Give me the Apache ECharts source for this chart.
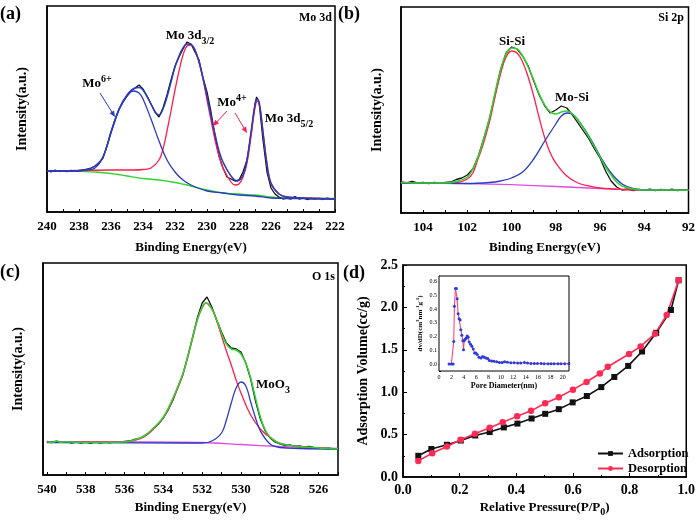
<!DOCTYPE html>
<html><head><meta charset="utf-8">
<script src="https://cdn.jsdelivr.net/npm/echarts@6/dist/echarts.min.js"></script>
<style>html,body{margin:0;padding:0;background:#fff}#c{width:698px;height:521px}</style>
</head><body><div id="c"></div>
<script>
// ---------- Panel (a) Mo 3d ----------
const aRawE = [240,239.75,239.5,239.25,239,238.75,238.5,238.25,238,237.75,237.5,237.25,237,236.75,236.5,236.25,236,235.75,235.5,235.25,235,234.75,234.5,234.25,234,233.75,233.5,233.25,233,232.75,232.5,232.25,232,231.75,231.5,231.25,231,230.75,230.5,230.25,230,229.75,229.5,229.25,229,228.75,228.5,228.25,228,227.75,227.5,227.25,227,226.9,226.75,226.5,226.25,226,225.75,225.5,225.25,225,224.75,224.5,224.25,224,223.75,223.5,223.25,223,222.75,222.5,222.25,222];
const aRawV = [41.5,40,41.8,40.5,41.2,40.3,41.6,40.8,41.5,42.2,42.8,44,46,49,54,66,80,92,103,110,116,121,124,127,123,116,108,100,95,104,117,132,146,155,163,170,168,160,152,134,120,100,76,56,44,35,33,31,32,40,52,78,108,115,110,72,40,24,18,15,13,14,13,15.5,13,14,12.5,13.5,12.8,13.6,12.5,13.8,13,13.3];
const aFitE = [240,238,237.5,237,236.5,236,235.5,235,234.5,234.25,234,233.5,233.2,233,232.75,232.5,232.25,232,231.75,231.5,231.25,231,230.75,230.5,230.25,230,229.75,229.5,229.25,229,228.5,228.1,227.75,227.5,227.25,227,226.85,226.7,226.5,226.25,226,225.5,225,224,222];
const aFitV = [41,41.3,42.5,46,55,80,103,117,124,124.5,122,108,99,97,103,115,130,145,156,164,168,167.5,162,150,134,116,96,78,61,50,36,31,37,52,80,107,113,106,80,48,29,18,15,14,13];
const aRedE = [240,238,236,234.5,234,233.5,233,232.75,232.5,232.25,232,231.75,231.5,231.25,231,230.75,230.5,230.25,230,229.75,229.5,229.25,229,228.5,228.25,228,227.75,227.5,227.25,227,226.85,226.7,226.5,226.25,226,225.5,225,224,222];
const aRedV = [41,41.5,42,42,42.5,44,52,63,81,101,122,141,157,166,167,162,150,133,112,92,72,56,44,30,27,28,35,49,75,104,111,105,80,48,28,18,15,14,13];
const aBlueE = [240,238,237.5,237,236.5,236,235.5,235,234.6,234.25,234,233.5,233,232.5,232,231.5,231,230,229,228,227,226,225,222];
const aBlueV = [41,41,42,44,55,79,102,116,121,119,113,93,71,52,40,32,27,21,19,17,16,14,13.5,13];
const aBgE = [240,238,237,236,235,234,233,232,231,230,229,228,227,226,225,222];
const aBgV = [40.7,40.7,40,38.5,36,33.5,32,29.5,26,22,19,18,17,15,14,13.7];

// ---------- Panel (b) Si 2p ----------
const bRawE = [105,104.75,104.5,104.25,104,103.75,103.5,103.25,103,102.75,102.5,102.25,102,101.75,101.5,101.25,101,100.75,100.5,100.25,100,99.75,99.5,99.25,99,98.75,98.5,98.25,98,97.75,97.5,97.25,97,96.75,96.5,96.25,96,95.75,95.5,95.25,95,94.75,94.5,94.25,94,93.75,93.5,93.25,93,92.75,92.5,92.25,92];
const bRawV = [31,30,31.5,30,30.5,29.5,30.5,29.8,30.5,31,33.5,35,38,44,57,75,94,118,143,160,166,164,157,147,132,118,107,100,103,107,105,98,90,82,74,64,55,42,32,26,23,24,22.5,23.5,22.8,23.8,22.5,23.6,22.6,23.8,22.4,23.2,22.8];
const bFitE = [105,104,103,102.5,102,101.75,101.5,101.25,101,100.75,100.5,100.25,100,99.75,99.5,99.25,99,98.75,98.5,98.25,98,97.75,97.5,97.25,97,96.75,96.5,96.25,96,95.75,95.5,95.25,95,94.5,94,93,92];
const bFitV = [30.5,30,30,31.5,36,44,57,75,95,120,143,159,165,164,157,146,133,119,108,101,99,101,102,99,93,85,76,66,56,46,38,31,27,24,23,23,22.8];
const bRedE = [105,103,102,101.5,101,100.75,100.5,100.25,100,99.75,99.5,99.25,99,98.75,98.5,98.25,98,97.5,97,96.5,96,95,94,92];
const bRedV = [30.5,30,34,55,91,116,139,156,162,160,151,136,117,95,75,60,50,37,30,27,25,23.5,23,22.8];
const bBlueE = [105,102,101,100.5,100,99.5,99,98.5,98,97.75,97.5,97.25,97,96.5,96,95.5,95,94.5,94,92];
const bBlueV = [30,29.5,30.5,32,35,41,54,72,89,97,100,99,93,77,57,40,29,24.5,23,22.8];
const bBaseE = [105,102,100,98,97,96,95,94,92];
const bBaseV = [30,29.3,28.3,26.5,25.5,24.5,23.6,23,22.7];

// ---------- Panel (c) O 1s ----------
const cRawE = [540,539.75,539.5,539.25,539,538.75,538.5,538.25,538,537.75,537.5,537.25,537,536.75,536.5,536.25,536,535.75,535.5,535.25,535,534.75,534.5,534.25,534,533.75,533.5,533.25,533,532.75,532.5,532.25,532,531.75,531.5,531.25,531,530.75,530.5,530.25,530,529.75,529.5,529.25,529,528.75,528.5,528.25,528,527.75,527.5,527.25,527,526.75,526.5,526.25,526,525.75,525.5,525.25,525];
const cRawV = [33.5,32.5,33.8,32.6,33.4,32,33,31.8,32.8,31.6,33,32,32.8,32.2,33.4,32.8,33.5,34,35.5,36.5,39,42,47,51,57,65,75,88,100,118,137,157,172,178,168,155,143,132,127,126,123,112,96,74,56,44,37,33,31,29.5,30,28.8,29.2,28,28.6,27.5,27.2,26.5,27,26,26.5];
const cFitE = [540,539.75,539.5,539.25,539,538,536,535.5,535,534.5,534,533.5,533,532.75,532.5,532.25,532,531.8,531.5,531.25,531,530.75,530.5,530.25,530,529.75,529.5,529.25,529,528.75,528.5,528,527,526,525.75,525.5,525.25,525];
const cFitV = [33.5,32.6,33.9,32.7,33.2,32.5,33,35,39,47,58,77,101,118,137,155,168,172,166,155,142,131,126,125,121,112,97,77,58,45,38,31.5,28.5,27.2,26.3,27.1,26,26.6];
const cRedE = [540,536,535.5,535,534.5,534,533.5,533,532.5,532.25,532,531.8,531.5,531.25,531,530.75,530.5,530.25,530,529.5,529,528.5,528,527,526,525];
const cRedV = [33,33,34.5,38,46,57,76,100,136,155,167,172,166,154,139,124,110,95,82,60,46,37.5,32,28.5,27,26];
const cBlueE = [540,533,532,531.5,531,530.75,530.5,530.25,530,529.75,529.5,529.25,529,528.5,528,527,525];
const cBlueV = [32.5,32,32,34,42,55,72,87,93,89,73,57,44,31,27.5,26.5,26];
const cBaseE = [540,535,532,530,528,526,525];
const cBaseV = [33,33,32.5,30.5,28.5,27,26.7];

// ---------- Panel (d) isotherm ----------
const adsP = [0.054,0.100,0.155,0.204,0.255,0.306,0.356,0.404,0.454,0.502,0.550,0.599,0.649,0.700,0.746,0.795,0.844,0.894,0.946,0.973];
const adsV = [0.25,0.33,0.38,0.43,0.49,0.53,0.585,0.63,0.69,0.745,0.80,0.88,0.955,1.06,1.18,1.31,1.48,1.70,1.97,2.32];
const desP = [0.054,0.103,0.155,0.204,0.254,0.306,0.352,0.403,0.452,0.502,0.550,0.600,0.648,0.695,0.723,0.798,0.839,0.890,0.931,0.973];
const desV = [0.19,0.28,0.36,0.44,0.51,0.58,0.645,0.715,0.78,0.87,0.94,1.03,1.12,1.22,1.30,1.45,1.54,1.69,1.91,2.32];

// ---------- Inset pore size distribution ----------
const poreD = [1.63,2.0,2.28,2.38,2.49,2.66,2.82,2.93,3.09,3.25,3.41,3.52,3.69,3.85,3.96,4.07,4.23,4.39,4.55,4.72,4.88,5.09,5.31,5.53,5.75,5.96,6.18,6.45,6.78,7.05,7.32,7.59,7.86,8.13,8.51,8.89,9.32,9.76,10.2,10.6,11.06,11.6,12.14,12.7,13.2,13.8,14.3,14.85,15.4,15.9,16.5,17.0,17.6,18.1,18.6,19.2,19.7,20.3,20.97];
const poreV = [0,0,0,0.165,0.42,0.55,0.55,0.475,0.365,0.33,0.32,0.25,0.21,0.17,0.105,0.17,0.18,0.19,0.205,0.195,0.16,0.145,0.13,0.11,0.08,0.08,0.07,0.05,0.045,0.055,0.05,0.045,0.04,0.027,0.022,0.02,0.018,0.012,0.012,0.018,0.013,0.01,0.01,0.008,0.008,0.012,0.008,0.005,0.005,0.005,0.005,0.003,0.003,0.003,0.003,0.003,0.003,0.003,0.003];

const F = "'Liberation Serif','Times New Roman',serif";
const BLACK = '#111111', RED = '#ff1f4b', BLUE = '#2b3bbf', GREEN = '#2fd22f', MAG = '#e04ce0';
const zip = (xs, ys) => xs.map((x, i) => [x, ys[i]]);

const chart = echarts.init(document.getElementById('c'), null, {renderer: 'canvas'});

function xpsX(idx, min, max, name, gap) {
  return {
    gridIndex: idx, type: 'value', min: min, max: max, inverse: true, interval: 1,
    name: name, nameLocation: 'middle', nameGap: gap,
    nameTextStyle: {fontFamily: F, fontWeight: 'bold', fontSize: 13, color: '#000'},
    axisLine: {lineStyle: {color: '#000', width: 1.5}},
    axisTick: {inside: true, length: 3, lineStyle: {color: '#000', width: 1}},
    axisLabel: {margin: 8, fontFamily: F, fontWeight: 'bold', fontSize: 13, color: '#000',
      formatter: v => (Math.abs(v - Math.round(v)) < 1e-6 && Math.round(v) % 2 === 0) ? String(Math.round(v)) : ''},
    splitLine: {show: false}
  };
}
function xpsY(idx, max, gap) {
  return {
    gridIndex: idx, type: 'value', min: 0, max: max,
    name: 'Intensity(a.u.)', nameLocation: 'middle', nameGap: gap,
    nameTextStyle: {fontFamily: F, fontWeight: 'bold', fontSize: 14, color: '#000'},
    axisLine: {lineStyle: {color: '#000', width: 1.5}},
    axisTick: {show: false}, axisLabel: {show: false}, splitLine: {show: false}
  };
}
function ln(idx, data, color, w, smooth) {
  return {type: 'line', xAxisIndex: idx, yAxisIndex: idx, data: data, showSymbol: false, symbol: 'none',
    smooth: smooth, lineStyle: {color: color, width: w}, itemStyle: {color: color}, silent: true, animation: false};
}

const richTxt = {
  m: {fontFamily: F, fontWeight: 'bold', fontSize: 13, lineHeight: 20, verticalAlign: 'middle', fill: '#000'},
  sub: {fontFamily: F, fontWeight: 'bold', fontSize: 10, verticalAlign: 'bottom', fill: '#000'},
  sup: {fontFamily: F, fontWeight: 'bold', fontSize: 10, verticalAlign: 'top', fill: '#000'}
};
function txt(x, y, text, size, align) {
  return {type: 'text', x: x, y: y, z: 100, silent: true,
    style: {text: text, fontFamily: F, fontWeight: 'bold', fontSize: size || 13, fill: '#000',
      align: align || 'center', verticalAlign: 'middle', rich: richTxt}};
}
function arrow(x1, y1, x2, y2, color) {
  const a = Math.atan2(y2 - y1, x2 - x1), L = 6, W = 2.6;
  const c = Math.cos(a), s = Math.sin(a);
  return [
    {type: 'line', z: 100, silent: true, shape: {x1: x1, y1: y1, x2: x2 - L * c * 0.7, y2: y2 - L * s * 0.7},
      style: {stroke: color, lineWidth: 1}},
    {type: 'polygon', z: 100, silent: true,
      shape: {points: [[x2, y2], [x2 - L * c + W * s, y2 - L * s - W * c], [x2 - L * c - W * s, y2 - L * s + W * c]]},
      style: {fill: color}}
  ];
}

const gridBase = {show: true, borderColor: '#000', borderWidth: 1.5, backgroundColor: '#fff', containLabel: false};

const option = {
  animation: false,
  backgroundColor: '#fff',
  grid: [
    Object.assign({left: 47, top: 6, width: 288, height: 206}, gridBase),
    Object.assign({left: 401, top: 7, width: 288, height: 206}, gridBase),
    Object.assign({left: 43, top: 263, width: 295, height: 212}, gridBase),
    Object.assign({left: 403, top: 265, width: 289, height: 212}, gridBase),
    Object.assign({left: 439, top: 276, width: 130, height: 95}, gridBase, {borderWidth: 1, z: 5})
  ],
  xAxis: [
    xpsX(0, 222, 240, 'Binding Energy(eV)', 29),
    xpsX(1, 92, 105, 'Binding Energy(eV)', 28),
    xpsX(2, 525, 540.2, 'Binding Energy(eV)', 26),
    {gridIndex: 3, type: 'value', min: 0, max: 1, interval: 0.2,
      name: '{a|Relative Pressure(P/P}{s|0}{a|)}', nameLocation: 'middle', nameGap: 22,
      nameTextStyle: {rich: {
        a: {fontFamily: F, fontWeight: 'bold', fontSize: 13, color: '#000', lineHeight: 18, verticalAlign: 'middle'},
        s: {fontFamily: F, fontWeight: 'bold', fontSize: 10, color: '#000', verticalAlign: 'bottom'}}},
      axisLine: {lineStyle: {color: '#000', width: 1.5}},
      axisTick: {inside: true, length: 4, lineStyle: {color: '#000'}},
      minorTick: {show: true, splitNumber: 2, length: 2, lineStyle: {color: '#000'}},
      axisLabel: {margin: 6, fontFamily: F, fontWeight: 'bold', fontSize: 14, color: '#000', formatter: v => v.toFixed(1)},
      splitLine: {show: false}},
    {gridIndex: 4, type: 'value', min: 0, max: 21, interval: 2,
      name: 'Pore Diameter(nm)', nameLocation: 'middle', nameGap: 11,
      nameTextStyle: {fontFamily: F, fontWeight: 'bold', fontSize: 8, color: '#000'},
      axisLine: {lineStyle: {color: '#000', width: 1}},
      axisTick: {inside: true, length: 2, lineStyle: {color: '#000'}},
      axisLabel: {margin: 3, fontFamily: F, fontSize: 6, color: '#000',
        formatter: v => (Math.abs(v - Math.round(v)) < 1e-6 && Math.round(v) % 2 === 0) ? String(Math.round(v)) : ''},
      splitLine: {show: false}}
  ],
  yAxis: [
    xpsY(0, 206, 18),
    xpsY(1, 206, 17),
    xpsY(2, 212, 18),
    {gridIndex: 3, type: 'value', min: 0, max: 2.5, interval: 0.5,
      name: 'Adsorption Volume(cc/g)', nameLocation: 'middle', nameGap: 33,
      nameTextStyle: {fontFamily: F, fontWeight: 'bold', fontSize: 14, color: '#000'},
      axisLine: {lineStyle: {color: '#000', width: 1.5}},
      axisTick: {inside: true, length: 4, lineStyle: {color: '#000'}},
      minorTick: {show: true, splitNumber: 2, length: 2, lineStyle: {color: '#000'}},
      axisLabel: {margin: 5, fontFamily: F, fontWeight: 'bold', fontSize: 14, color: '#000', formatter: v => v.toFixed(1)},
      splitLine: {show: false}},
    {gridIndex: 4, type: 'value', min: -0.05, max: 0.64, interval: 0.05,
      name: '{a|dv/dD(cm}{p|3}{a|nm}{p|-1}{a|g}{p|-1}{a|)}', nameLocation: 'middle', nameGap: 13,
      nameTextStyle: {rich: {
        a: {fontFamily: F, fontWeight: 'bold', fontSize: 7, color: '#000', lineHeight: 11, verticalAlign: 'middle'},
        p: {fontFamily: F, fontWeight: 'bold', fontSize: 5, color: '#000', verticalAlign: 'top'}}},
      axisLine: {lineStyle: {color: '#000', width: 1}},
      axisTick: {inside: true, length: 2, lineStyle: {color: '#000'}},
      axisLabel: {margin: 2, fontFamily: F, fontSize: 6, color: '#000',
        formatter: v => {const t = v * 10; return (v > -0.001 && Math.abs(t - Math.round(t)) < 1e-4) ? v.toFixed(1) : '';}},
      splitLine: {show: false}}
  ],
  legend: {
    left: 597, top: 447, padding: 0, orient: 'vertical', itemGap: 2, itemWidth: 25, itemHeight: 6,
    data: ['Adsorption', 'Desorption'],
    textStyle: {fontFamily: F, fontWeight: 'bold', fontSize: 12.5, color: '#000'}
  },
  series: [
    ln(0, zip(aBgE, aBgV), GREEN, 1.3, 0.3),
    ln(0, zip(aRawE, aRawV), BLACK, 1.3, false),
    ln(0, zip(aRedE, aRedV), RED, 1.3, 0.4),
    ln(0, zip(aBlueE, aBlueV), BLUE, 1.3, 0.4),
    ln(0, zip(aFitE, aFitV), BLUE, 1.5, 0.4),

    ln(1, zip(bRawE, bRawV), BLACK, 1.3, false),
    ln(1, zip(bBaseE, bBaseV), MAG, 1.3, 0.3),
    ln(1, zip(bRedE, bRedV), RED, 1.3, 0.4),
    ln(1, zip(bBlueE, bBlueV), BLUE, 1.3, 0.4),
    ln(1, zip(bFitE, bFitV), GREEN, 1.5, 0.4),

    ln(2, zip(cRawE, cRawV), BLACK, 1.3, false),
    ln(2, zip(cBaseE, cBaseV), MAG, 1.3, 0.3),
    ln(2, zip(cRedE, cRedV), RED, 1.3, 0.4),
    ln(2, zip(cBlueE, cBlueV), BLUE, 1.3, 0.4),
    ln(2, zip(cFitE, cFitV), GREEN, 1.5, 0.4),

    {name: 'Adsorption', type: 'line', xAxisIndex: 3, yAxisIndex: 3, data: zip(adsP, adsV),
      symbol: 'rect', symbolSize: 6, lineStyle: {color: BLACK, width: 1.6}, itemStyle: {color: BLACK}},
    {name: 'Desorption', type: 'line', xAxisIndex: 3, yAxisIndex: 3, data: zip(desP, desV),
      symbol: 'circle', symbolSize: 6.5, lineStyle: {color: '#ff2a55', width: 1.6}, itemStyle: {color: '#ff2a55'}},

    {type: 'line', xAxisIndex: 4, yAxisIndex: 4, data: zip(poreD, poreV), z: 10,
      symbol: 'circle', symbolSize: 3, lineStyle: {color: '#ff3366', width: 1}, itemStyle: {color: '#2a3cdd'}}
  ],
  graphic: [
    txt(0, 14, '(a)', 18, 'left'),
    txt(338, 14, '(b)', 18, 'left'),
    txt(0, 272, '(c)', 18, 'left'),
    txt(343, 273, '(d)', 18, 'left'),
    txt(332, 18, 'Mo 3d', 12, 'right'),
    txt(684, 18, 'Si 2p', 12, 'right'),
    txt(335, 277, 'O 1s', 12, 'right'),
    txt(190, 36, '{m|Mo 3d}{sub|3/2}'),
    txt(97, 84, '{m|Mo}{sup|6+}'),
    txt(232, 103, '{m|Mo}{sup|4+}'),
    txt(289, 119, '{m|Mo 3d}{sub|5/2}'),
    txt(512, 42, 'Si-Si', 13),
    txt(572, 98, 'Mo-Si', 13),
    txt(273, 385, '{m|MoO}{sub|3}'),
    ...arrow(100, 93, 115, 117, BLUE),
    ...arrow(227, 111, 213, 126, RED),
    ...arrow(235, 113, 247, 133, RED)
  ]
};
chart.setOption(option);
</script>
</body></html>
